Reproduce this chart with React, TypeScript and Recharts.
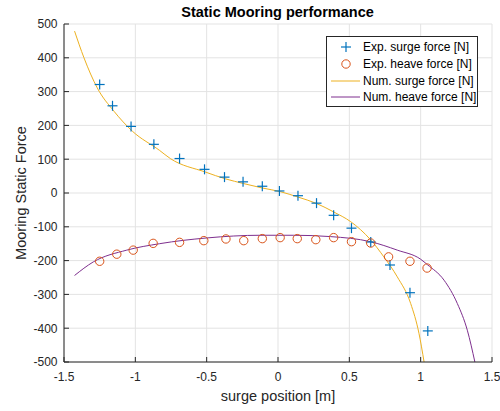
import React from "react";
import {
  ComposedChart,
  XAxis,
  YAxis,
  CartesianGrid,
  Line,
  Scatter,
  Label,
} from "recharts";

const FONT = '"Liberation Sans", Arial, Helvetica, sans-serif';
const AX = "#262626";

// Experimental surge force
const expSurgeX = [-1.25, -1.16, -1.03, -0.87, -0.69, -0.515, -0.375, -0.245, -0.11, 0.01, 0.14, 0.27, 0.39, 0.515, 0.65, 0.785, 0.925, 1.05];
const expSurgeF = [321, 258, 197, 144, 102, 70, 47, 33, 20, 6, -8, -30, -66, -104, -145, -213, -295, -408];

// Experimental heave force
const expHeaveX = [-1.25, -1.13, -1.015, -0.875, -0.69, -0.52, -0.365, -0.24, -0.11, 0.015, 0.135, 0.265, 0.39, 0.515, 0.65, 0.775, 0.925, 1.045];
const expHeaveF = [-202, -181, -169, -149, -146, -141, -136, -141, -135, -132, -135, -138, -132, -144, -148, -189, -202, -222];

// Numerical surge force curve
const numSurgeX = [-1.426, -1.36, -1.267, -1.15, -1.021, -0.83, -0.755, -0.509, -0.369, -0.242, -0.112, 0.016, 0.14, 0.27, 0.39, 0.51, 0.648, 0.742, 0.836, 0.93, 0.988, 1.024];
const numSurgeF = [479, 400, 311, 242, 183, 126, 102, 62, 42, 28, 15, 4, -12, -31, -56, -85, -138, -189, -248, -327, -415, -500];

// Numerical heave force curve
const numHeaveX = [-1.426, -1.295, -1.06, -0.83, -0.5, -0.12, 0.11, 0.368, 0.648, 0.836, 1.0, 1.047, 1.164, 1.257, 1.327, 1.38];
const numHeaveF = [-244, -204, -169, -150, -133, -125, -125, -129, -144, -169, -196, -212, -258, -327, -406, -500];

const xTicks = [-1.5, -1, -0.5, 0, 0.5, 1, 1.5];
const yTicks = [-500, -400, -300, -200, -100, 0, 100, 200, 300, 400, 500];

const zip = (xs: number[], ys: number[]) => xs.map((x, i) => ({ x, y: ys[i] }));
const expSurge = zip(expSurgeX, expSurgeF);
const expHeave = zip(expHeaveX, expHeaveF);
const numSurge = zip(numSurgeX, numSurgeF);
const numHeave = zip(numHeaveX, numHeaveF);

const C_SURGE = "#0072BD";
const C_HEAVE = "#D95319";
const C_NSURGE = "#EDB120";
const C_NHEAVE = "#7E2F8E";

const BottomTick = (p: any) => (
  <g>
    <line x1={p.x} y1={p.y} x2={p.x} y2={p.y - 5} stroke={AX} />
    <text x={p.x} y={p.y + 18.5} textAnchor="middle" fontSize={12} fill={AX} fontFamily={FONT}>
      {String(p.payload.value)}
    </text>
  </g>
);
const TopTick = (p: any) => (
  <line x1={p.x} y1={p.y} x2={p.x} y2={p.y + 5} stroke={AX} />
);
const LeftTick = (p: any) => (
  <g>
    <line x1={p.x} y1={p.y} x2={p.x + 5} y2={p.y} stroke={AX} />
    <text x={p.x - 6.5} y={p.y + 4.3} textAnchor="end" fontSize={12} fill={AX} fontFamily={FONT}>
      {String(p.payload.value)}
    </text>
  </g>
);
const RightTick = (p: any) => (
  <line x1={p.x} y1={p.y} x2={p.x - 5} y2={p.y} stroke={AX} />
);

const Plus = (p: any) => {
  const { cx, cy } = p;
  if (cx == null || cy == null) return null;
  return (
    <g>
      <line x1={cx - 5} y1={cy} x2={cx + 5} y2={cy} stroke={C_SURGE} strokeWidth={1.2} />
      <line x1={cx} y1={cy - 5} x2={cx} y2={cy + 5} stroke={C_SURGE} strokeWidth={1.2} />
    </g>
  );
};
const Circle = (p: any) => {
  const { cx, cy } = p;
  if (cx == null || cy == null) return null;
  return <circle cx={cx} cy={cy} r={4.2} fill="none" stroke={C_HEAVE} strokeWidth={1} />;
};

const legendItems = [
  { label: "Exp. surge force [N]", kind: "plus", color: C_SURGE },
  { label: "Exp. heave force [N]", kind: "circle", color: C_HEAVE },
  { label: "Num. surge force [N]", kind: "line", color: C_NSURGE },
  { label: "Num. heave force [N]", kind: "line", color: C_NHEAVE },
];

export default function App() {
  return (
    <div style={{ position: "absolute", left: 0, top: 0, width: 500, height: 411, background: "#fff", fontFamily: FONT }}>
      <ComposedChart
        width={500}
        height={411}
        margin={{ top: 24, right: 8, bottom: 0, left: 0 }}
      >
        <CartesianGrid stroke="#e3e3e3" strokeWidth={1} />
        <XAxis
          dataKey="x"
          type="number"
          domain={[-1.5, 1.5]}
          ticks={xTicks}
          height={49}
          tickSize={0}
          tickMargin={0}
          tickLine={false}
          axisLine={{ stroke: AX }}
          tick={BottomTick}
          interval={0}
        >
          <Label
            content={(props: any) => {
              const vb = props.viewBox || { x: 64, width: 428 };
              return (
                <text x={vb.x + vb.width / 2} y={400.5} textAnchor="middle" fontSize={14.5} fill={AX} fontFamily={FONT}>
                  surge position [m]
                </text>
              );
            }}
          />
        </XAxis>
        <XAxis
          xAxisId="top"
          orientation="top"
          dataKey="x"
          type="number"
          domain={[-1.5, 1.5]}
          ticks={xTicks}
          height={0}
          tickSize={0}
          tickMargin={0}
          tickLine={false}
          axisLine={{ stroke: AX }}
          tick={TopTick}
          interval={0}
        />
        <YAxis
          type="number"
          domain={[-500, 500]}
          ticks={yTicks}
          width={64}
          tickSize={0}
          tickMargin={0}
          tickLine={false}
          axisLine={{ stroke: AX }}
          tick={LeftTick}
          interval={0}
        >
          <Label
            content={() => (
              <text
                x={25.5}
                y={193}
                transform="rotate(-90 25.5 193)"
                textAnchor="middle"
                fontSize={14.5}
                fill={AX}
                fontFamily={FONT}
              >
                Mooring Static Force
              </text>
            )}
          />
        </YAxis>
        <YAxis
          yAxisId="right"
          orientation="right"
          type="number"
          domain={[-500, 500]}
          ticks={yTicks}
          width={0}
          tickSize={0}
          tickMargin={0}
          tickLine={false}
          axisLine={{ stroke: AX }}
          tick={RightTick}
          interval={0}
        />
        <Line
          data={numSurge}
          dataKey="y"
          type="monotoneX"
          stroke={C_NSURGE}
          strokeWidth={1}
          dot={false}
          activeDot={false}
          isAnimationActive={false}
        />
        <Line
          data={numHeave}
          dataKey="y"
          type="monotoneX"
          stroke={C_NHEAVE}
          strokeWidth={1}
          dot={false}
          activeDot={false}
          isAnimationActive={false}
        />
        <Scatter data={expSurge} dataKey="y" shape={Plus} isAnimationActive={false} />
        <Scatter data={expHeave} dataKey="y" shape={Circle} isAnimationActive={false} />
      </ComposedChart>

      <div
        style={{
          position: "absolute",
          left: 0,
          top: 5,
          width: 555,
          textAlign: "center",
          fontSize: 14.5,
          fontWeight: "bold",
          color: "#000",
          lineHeight: "15px",
        }}
      >
        Static Mooring performance
      </div>

      <div
        style={{
          position: "absolute",
          left: 326,
          top: 36,
          width: 150,
          height: 69,
          border: `1px solid ${AX}`,
          background: "#fff",
          boxSizing: "content-box",
        }}
      >
        {legendItems.map((it, i) => (
          <div
            key={it.label}
            style={{
              position: "absolute",
              left: 0,
              top: 2 + i * 16.7,
              height: 16.7,
              width: 150,
              display: "flex",
              alignItems: "center",
            }}
          >
            <svg width={36} height={16} style={{ display: "block" }}>
              {it.kind === "plus" && (
                <g>
                  <line x1={14} y1={8} x2={24} y2={8} stroke={it.color} strokeWidth={1.2} />
                  <line x1={19} y1={3} x2={19} y2={13} stroke={it.color} strokeWidth={1.2} />
                </g>
              )}
              {it.kind === "circle" && (
                <circle cx={19} cy={8} r={4.2} fill="none" stroke={it.color} strokeWidth={1} />
              )}
              {it.kind === "line" && (
                <line x1={4} y1={8} x2={33} y2={8} stroke={it.color} strokeWidth={1} />
              )}
            </svg>
            <span style={{ fontSize: 12, color: "#000", whiteSpace: "nowrap" }}>{it.label}</span>
          </div>
        ))}
      </div>
    </div>
  );
}
